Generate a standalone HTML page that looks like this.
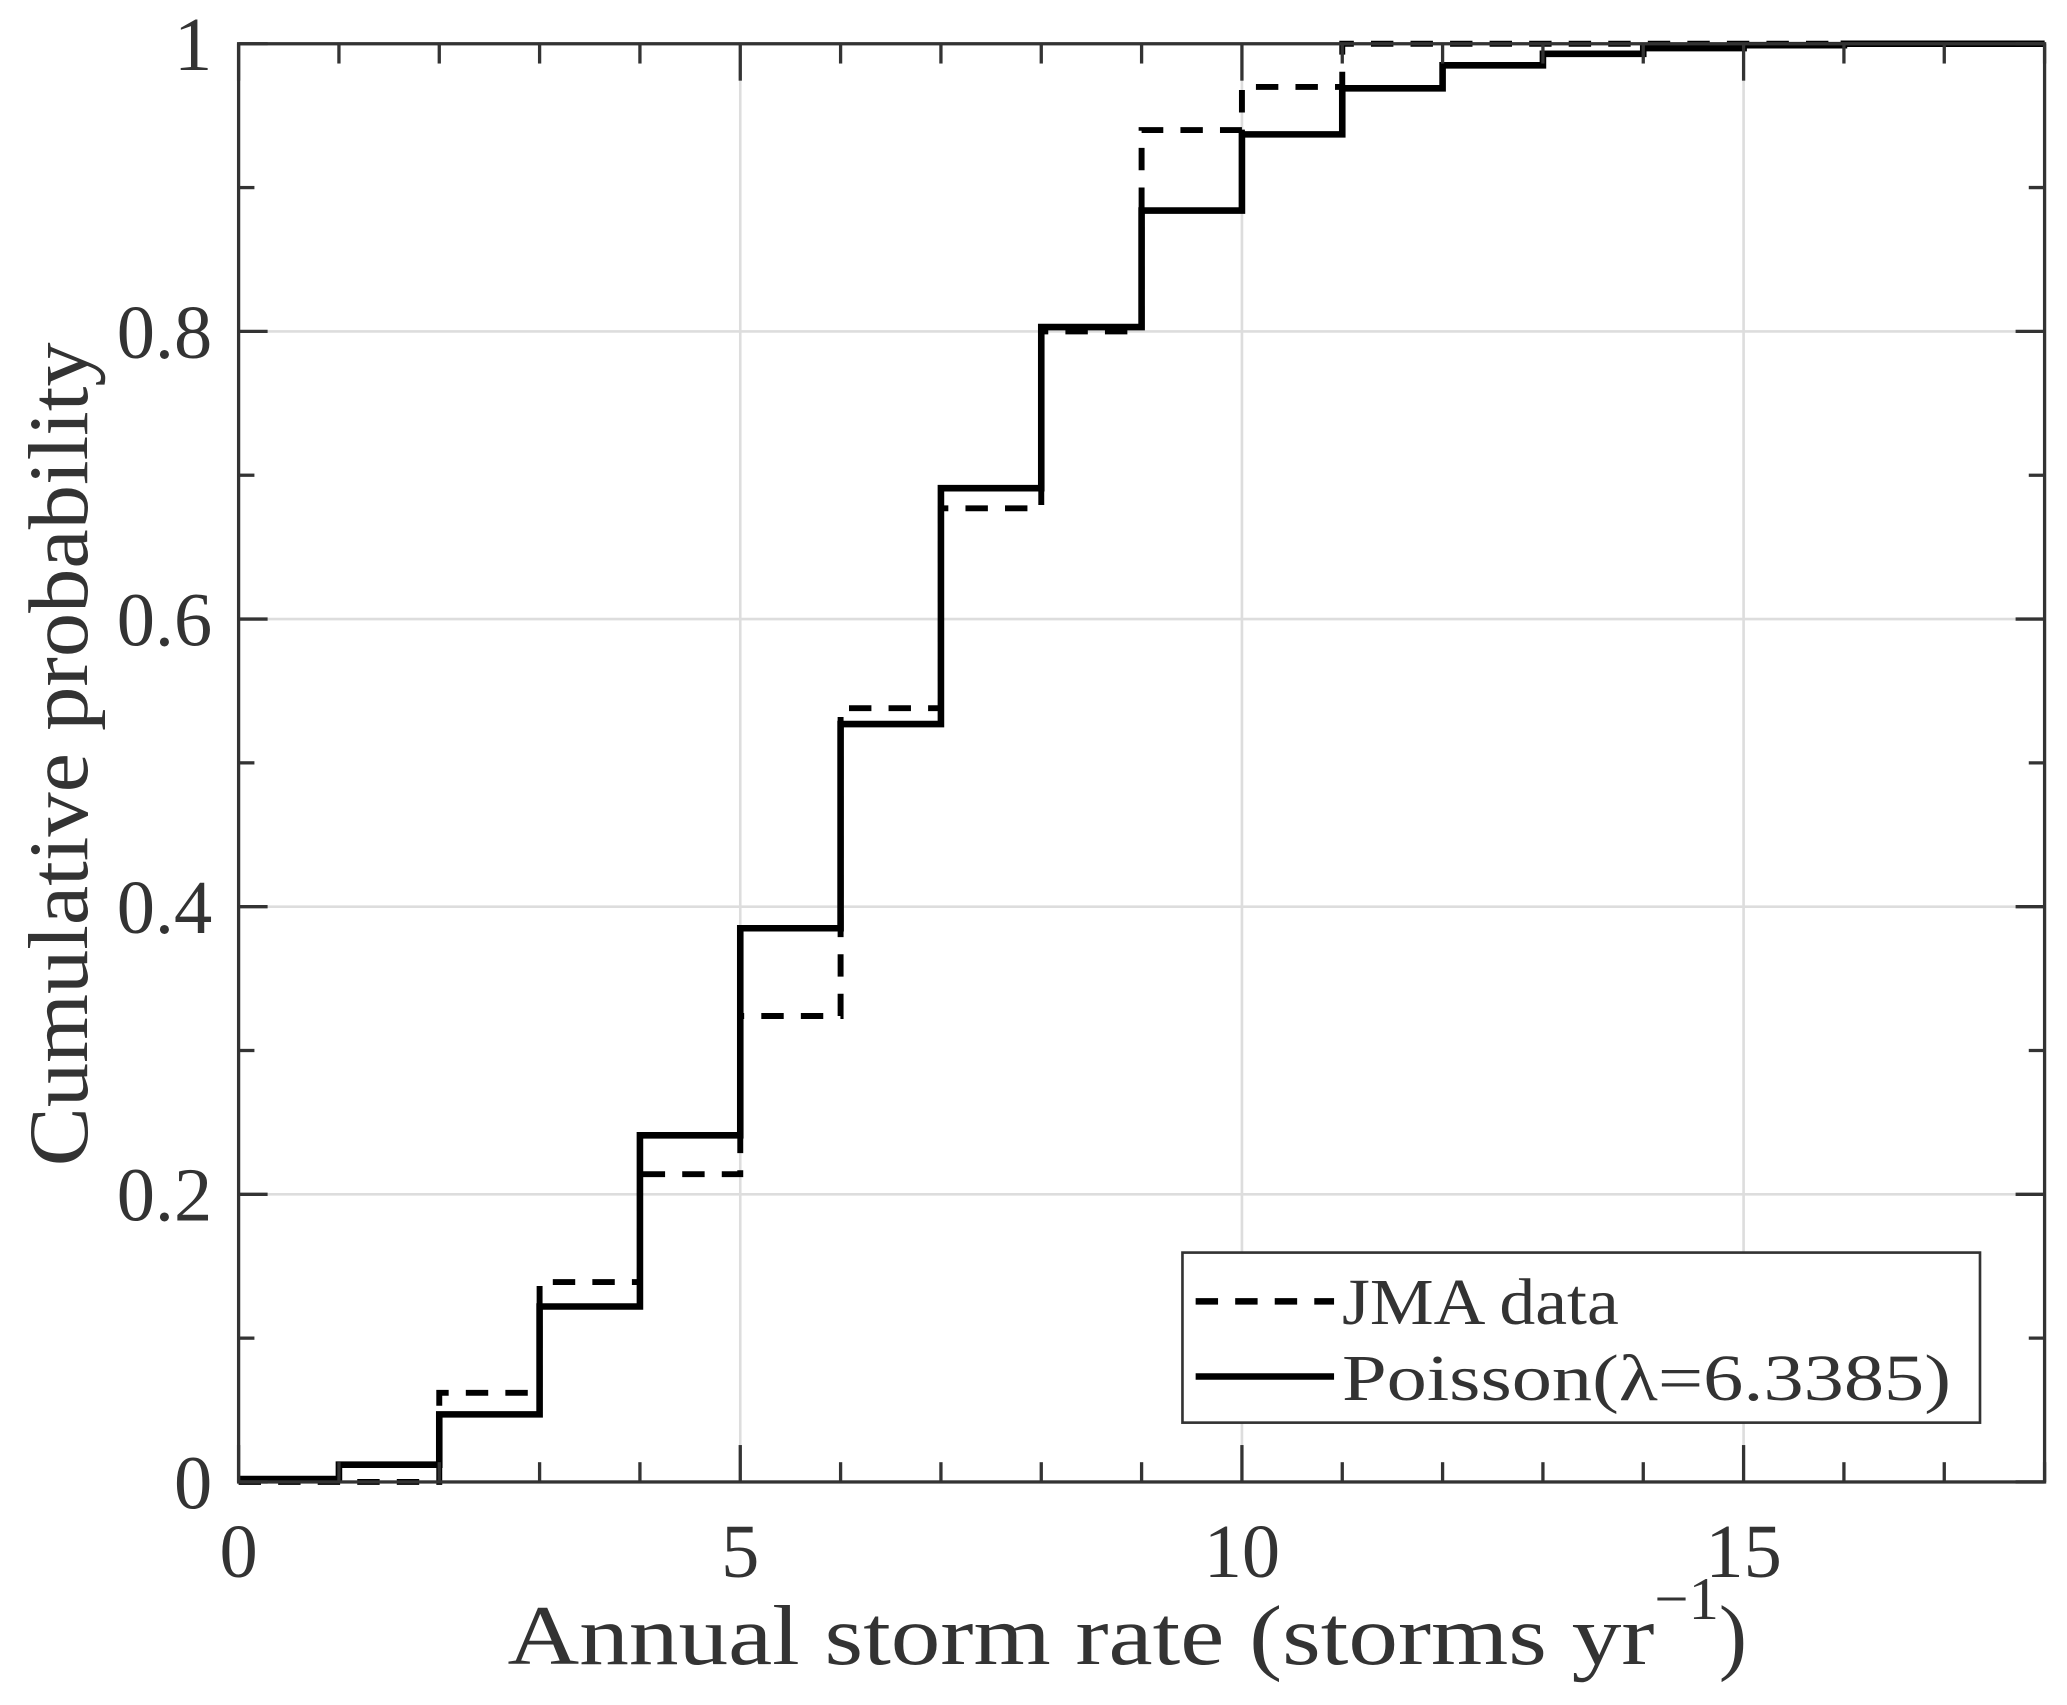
<!DOCTYPE html>
<html><head><meta charset="utf-8"><style>
html,body{margin:0;padding:0;background:#fff;}
svg{display:block;}
text{font-family:"Liberation Serif",serif;fill:#333;}
</style></head><body>
<svg id="chart" width="2067" height="1705" viewBox="0 0 1568 1293" xmlns="http://www.w3.org/2000/svg">
<rect width="1568" height="1293" fill="#fff"/>
<g id="grid"></g>
<g id="series"></g>
<g id="axes"></g>
<g id="legend">
<rect x="897" y="950" width="605" height="129" fill="#fff" stroke="#333" stroke-width="2"/>
<line x1="907" y1="987" x2="1012" y2="987" stroke="#000" stroke-width="5" stroke-dasharray="17,13"/>
<text x="1018" y="1004" font-size="50" textLength="210" lengthAdjust="spacingAndGlyphs">JMA data</text>
<line x1="907" y1="1044" x2="1012" y2="1044" stroke="#000" stroke-width="5"/>
<text x="1018" y="1062" font-size="50" textLength="462" lengthAdjust="spacingAndGlyphs">Poisson(λ=6.3385)</text>
</g>
<text x="385" y="1262" font-size="64"><tspan textLength="870" lengthAdjust="spacingAndGlyphs">Annual storm rate (storms  yr</tspan><tspan font-size="46" dy="-34">−1</tspan><tspan dy="34">)</tspan></text>
<text transform="translate(66,572) rotate(-90)" font-size="64" text-anchor="middle" textLength="625" lengthAdjust="spacingAndGlyphs">Cumulative probability</text>
</svg>
<script>
const xStarts = [0,1,2,3,4,5,6,7,8,9,10,11,12,13,14,15,16,17];
const poissonValues = [0.002,0.012,0.047,0.122,0.241,0.385,0.527,0.691,0.803,0.884,0.937,0.969,0.985,0.993,0.997,0.999,1.0,1.0];
const jmaStarts = [0,1,2,3,4,5,6,7,8,9,10,11];
const jmaValues = [0,0,0.062,0.139,0.214,0.324,0.538,0.677,0.800,0.940,0.970,1.0];
const xTickLabels = [0,5,10,15];
const yTickLabels = ["0","0.2","0.4","0.6","0.8","1"];
const yTickValues = [0,0.2,0.4,0.6,0.8,1];
const X0=181,X1=1551,Y0=1124,Y1=33,XMAX=18;
const sx=v=>X0+(X1-X0)*v/XMAX;
const sy=v=>Y0-(Y0-Y1)*v;
const NS="http://www.w3.org/2000/svg";
function mk(tag,attrs,parent){const e=document.createElementNS(NS,tag);for(const k in attrs)e.setAttribute(k,attrs[k]);parent.appendChild(e);return e;}
const grid=document.getElementById('grid'),axes=document.getElementById('axes'),series=document.getElementById('series');
for(const v of xTickLabels){if(v===0)continue;const l=mk('line',{x1:sx(v),x2:sx(v),y1:Y0,y2:Y1,stroke:'#ddd','stroke-width':2},grid);

}
for(const v of yTickValues){if(v===0||v===1)continue;const l=mk('line',{x1:X0,x2:X1,y1:sy(v),y2:sy(v),stroke:'#ddd','stroke-width':2},grid);

}
function stepPath(starts,vals,end){let d='';for(let i=0;i<starts.length;i++){const x=sx(starts[i]),y=sy(vals[i]),xe=sx(i+1<starts.length?starts[i+1]:end);d+=(i===0?'M':'L')+x+','+y+'L'+xe+','+y;}return d;}
const pj=mk('path',{d:stepPath(jmaStarts,jmaValues,XMAX),fill:'none',stroke:'#000','stroke-width':4.5,'stroke-dasharray':'17,13'},series);


const pp=mk('path',{d:stepPath(xStarts,poissonValues,XMAX),fill:'none',stroke:'#000','stroke-width':5},series);


const box=mk('rect',{x:X0,y:Y1,width:X1-X0,height:Y0-Y1,fill:'none',stroke:'#333','stroke-width':2.5},axes);


for(let v=0;v<=XMAX;v++){const L=(v%5===0)?28:15;const x=sx(v);
const t1=mk('line',{x1:x,x2:x,y1:Y0,y2:Y0-L,stroke:'#333','stroke-width':2.5},axes);


const t2=mk('line',{x1:x,x2:x,y1:Y1,y2:Y1+L,stroke:'#333','stroke-width':2.5},axes);

}
for(const v of xTickLabels){const t=mk('text',{x:sx(v),y:1196,'font-size':58,'text-anchor':'middle'},axes);t.textContent=v;

}
for(let i=0;i<=10;i++){const v=i/10;const L=(i%2===0)?22:12;const y=sy(v);
const t1=mk('line',{x1:X0,x2:X0+L,y1:y,y2:y,stroke:'#333','stroke-width':2.5},axes);


const t2=mk('line',{x1:X1,x2:X1-L,y1:y,y2:y,stroke:'#333','stroke-width':2.5},axes);

}
yTickValues.forEach((v,i)=>{const t=mk('text',{x:161,y:sy(v)+20,'font-size':58,'text-anchor':'end'},axes);t.textContent=yTickLabels[i];

});
</script>
</body></html>
